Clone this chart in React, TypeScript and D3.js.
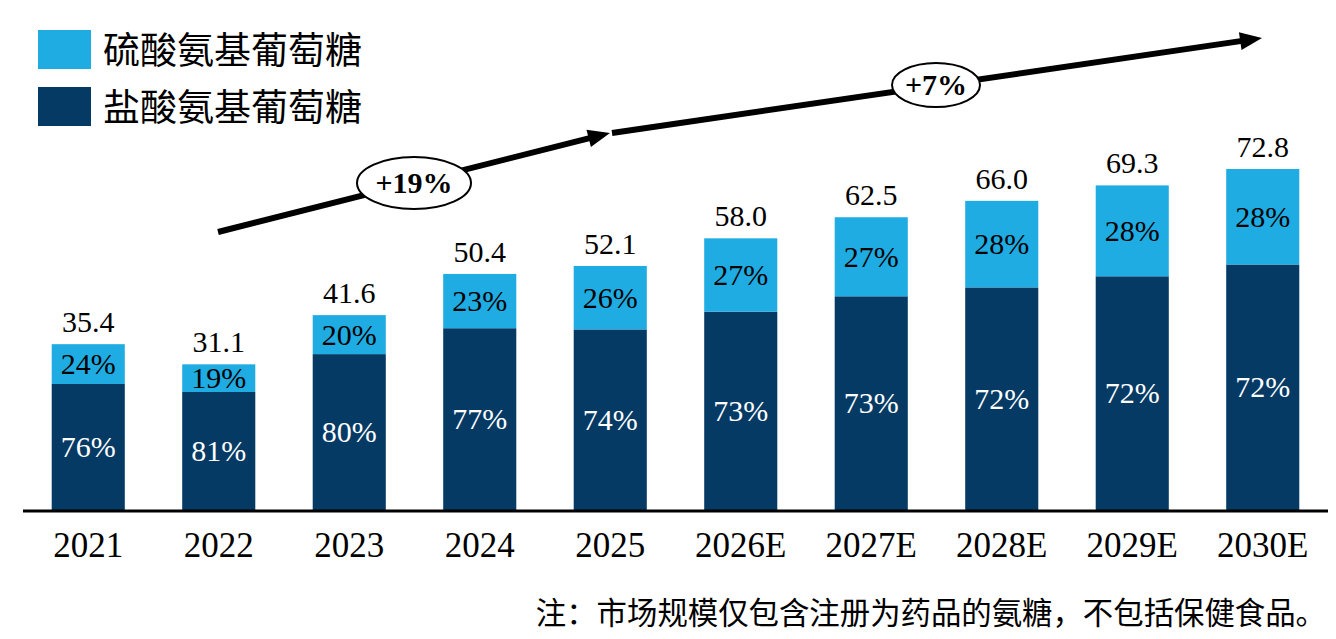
import React from "react";
import * as d3 from "d3";

const years = ["2021", "2022", "2023", "2024", "2025", "2026E", "2027E", "2028E", "2029E", "2030E"];
const totals = [35.4, 31.1, 41.6, 50.4, 52.1, 58.0, 62.5, 66.0, 69.3, 72.8];
const sulfateShare = [24, 19, 20, 23, 26, 27, 27, 28, 28, 28];
const hydrochlorideShare = [76, 81, 80, 77, 74, 73, 73, 72, 72, 72];
const seriesNames = ["硫酸氨基葡萄糖", "盐酸氨基葡萄糖"];
const growthLabels = ["+19%", "+7%"];
const note = "注：市场规模仅包含注册为药品的氨糖，不包括保健食品。";

const W = 1336;
const H = 639;
const LIGHT = "#1eace2";
const DARK = "#053a65";
const SERIF = "'Liberation Serif', 'Times New Roman', serif";
const CJK = "'Noto Sans CJK SC', 'Noto Sans', sans-serif";

// growth arrows (annotation geometry)
const arrows = [
  { x1: 218, y1: 232, x2: 610, y2: 133, cx: 414, cy: 183, rx: 57, ry: 26 },
  { x1: 612, y1: 133, x2: 1262, y2: 38, cx: 936, cy: 85, rx: 44, ry: 22 },
];

function Arrow({ a, label }: { a: any; label: string }) {
  const dx = a.x2 - a.x1;
  const dy = a.y2 - a.y1;
  const len = Math.hypot(dx, dy);
  const ux = dx / len;
  const uy = dy / len;
  const hl = 22;
  const hw = 9;
  const bx = a.x2 - ux * hl;
  const by = a.y2 - uy * hl;
  const pts = [
    [a.x2, a.y2],
    [bx - uy * hw, by + ux * hw],
    [bx + uy * hw, by - ux * hw],
  ]
    .map((p) => p.join(","))
    .join(" ");
  return (
    <g>
      <line x1={a.x1} y1={a.y1} x2={bx + ux * 2} y2={by + uy * 2} stroke="#000" strokeWidth={6} />
      <polygon points={pts} fill="#000" />
      <ellipse cx={a.cx} cy={a.cy} rx={a.rx} ry={a.ry} fill="#fff" stroke="#000" strokeWidth={2} />
      <text
        x={a.cx}
        y={a.cy + 10}
        textAnchor="middle"
        fontFamily={SERIF}
        fontWeight="bold"
        fontSize={30}
        fill="#000"
      >
        {label}
      </text>
    </g>
  );
}

export default function App() {
  const x = d3
    .scaleBand<string>()
    .domain(years)
    .range([23, 1328])
    .paddingInner(0.44)
    .paddingOuter(0.22);

  const y = d3.scaleLinear().domain([0, 72.8]).range([510, 169]);

  const rows = years.map((yr, i) => {
    const dark = (totals[i] * hydrochlorideShare[i]) / 100;
    return { yr, total: totals[i], dark, light: totals[i] - dark, i };
  });

  return (
    <svg
      width={W}
      height={H}
      style={{ position: "absolute", left: 0, top: 0, background: "#fff" }}
    >
      {/* legend */}
      {seriesNames.map((name, i) => (
        <g key={name} transform={`translate(38, ${30 + i * 57})`}>
          <rect width={53} height={39} fill={i === 0 ? LIGHT : DARK} />
          <text x={65} y={34} fontFamily={CJK} fontSize={37} fill="#000">
            {name}
          </text>
        </g>
      ))}

      {/* bars */}
      {rows.map((d) => {
        const bx = x(d.yr) as number;
        const bw = x.bandwidth();
        const cx = bx + bw / 2;
        const yDarkTop = y(d.dark);
        const yTop = y(d.total);
        return (
          <g key={d.yr}>
            <rect x={bx} y={yDarkTop} width={bw} height={y(0) - yDarkTop} fill={DARK} />
            <rect x={bx} y={yTop} width={bw} height={yDarkTop - yTop} fill={LIGHT} />
            <text
              x={cx}
              y={(yDarkTop + y(0)) / 2 + 10}
              textAnchor="middle"
              fontFamily={SERIF}
              fontSize={30}
              fill="#fff"
            >
              {hydrochlorideShare[d.i]}%
            </text>
            <text
              x={cx}
              y={(yTop + yDarkTop) / 2 + 10}
              textAnchor="middle"
              fontFamily={SERIF}
              fontSize={30}
              fill="#000"
            >
              {sulfateShare[d.i]}%
            </text>
            <text
              x={cx}
              y={yTop - 12}
              textAnchor="middle"
              fontFamily={SERIF}
              fontSize={30}
              fill="#000"
            >
              {d.total.toFixed(1)}
            </text>
            <text
              x={cx}
              y={557}
              textAnchor="middle"
              fontFamily={SERIF}
              fontSize={35}
              fill="#000"
            >
              {d.yr}
            </text>
          </g>
        );
      })}

      {/* baseline */}
      <line x1={23} x2={1328} y1={y(0) + 1} y2={y(0) + 1} stroke="#000" strokeWidth={3} />

      {/* growth arrows */}
      {arrows.map((a, i) => (
        <Arrow key={i} a={a} label={growthLabels[i]} />
      ))}

      {/* note */}
      <text x={1326} y={624} textAnchor="end" fontFamily={CJK} fontSize={30.4} fill="#000">
        {note}
      </text>
    </svg>
  );
}
